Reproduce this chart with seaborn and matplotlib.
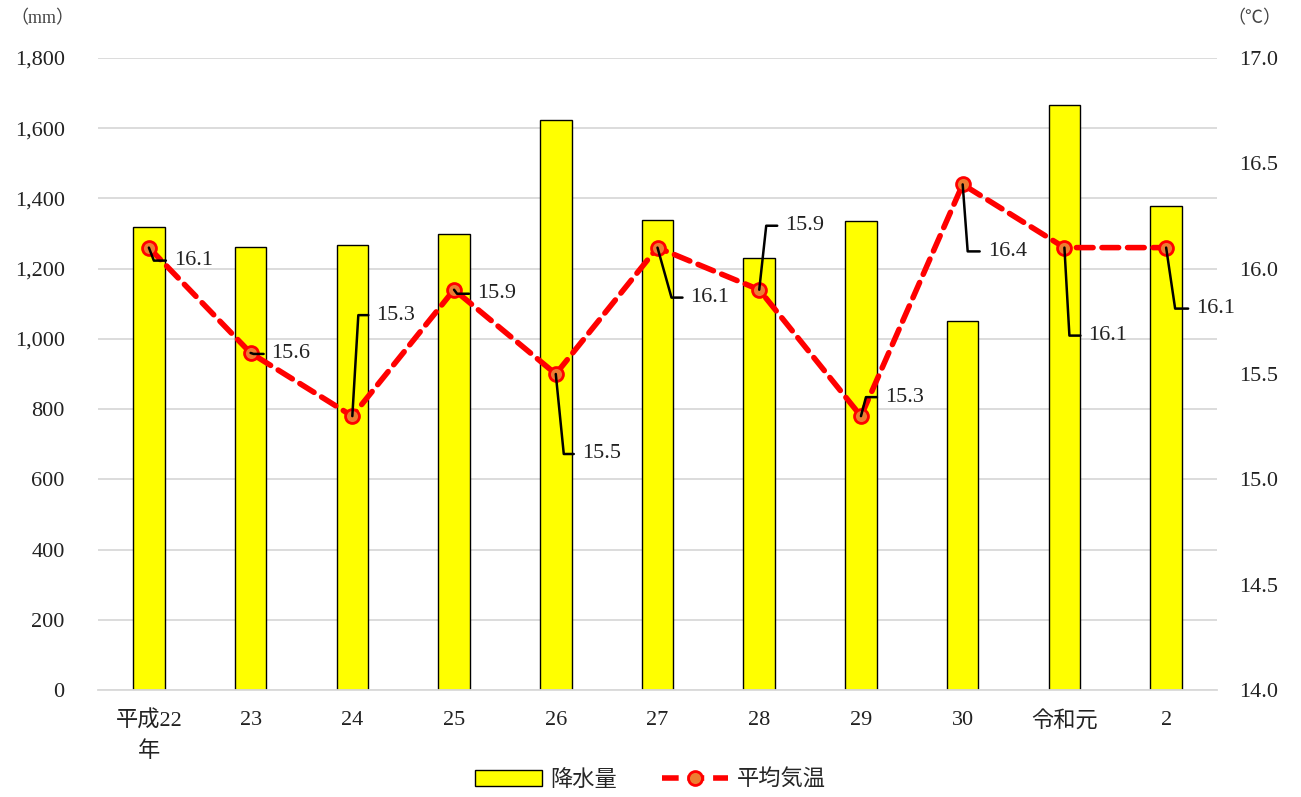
import numpy as np
import pandas as pd
import matplotlib
matplotlib.use("Agg")
import matplotlib.pyplot as plt
from matplotlib.lines import Line2D
from matplotlib.patches import Patch
from matplotlib.transforms import IdentityTransform
import seaborn as sns

# ---- data ----
years = ["平成22\n年", "23", "24", "25", "26", "27", "28", "29", "30", "令和元", "2"]
rainfall = [1320, 1262, 1267, 1299, 1623, 1338, 1230, 1336, 1051, 1666, 1378]
temperature = [16.1, 15.6, 15.3, 15.9, 15.5, 16.1, 15.9, 15.3, 16.4, 16.1, 16.1]
left_ticks = [0, 200, 400, 600, 800, 1000, 1200, 1400, 1600, 1800]
right_ticks = [14.0, 14.5, 15.0, 15.5, 16.0, 16.5, 17.0]

# label leader offsets in pixels: (elbow dx, elbow dy, end dx) ; dy positive = down
leaders = [(5, 13, 17), (3, 1, 13), (6, -101, 16), (3, 4, 15), (8, 80, 18), (14, 50, 25),
           (7, -64, 18), (5, -19, 16), (5, 67, 17), (5, 88, 16), (9, 61, 22)]

sns.set_theme(style="white")
plt.rcParams["font.family"] = ["Liberation Serif", "Noto Sans CJK JP", "DejaVu Sans"]

W, H = 1301, 797
fig = plt.figure(figsize=(W / 100, H / 100), dpi=100)
ax = fig.add_axes([98 / W, 1 - 690 / H, (1217 - 98) / W, (690 - 58) / H])

df = pd.DataFrame({"year": years, "rain": rainfall, "temp": temperature})

sns.barplot(data=df, x="year", y="rain", color="#FFFF00", saturation=1,
            edgecolor="black", linewidth=1, width=0.31, ax=ax, zorder=2)
ax.set_ylim(0, 1800)
ax.set_xlim(-0.5, len(years) - 0.5)
ax.set_yticks(left_ticks)
ax.set_yticklabels([f"{v:,}" for v in left_ticks], fontsize=16, color="#222222")
for lab in ax.get_xticklabels():
    lab.set_linespacing(1.6)
ax.set_xlabel("")
ax.set_ylabel("")
ax.tick_params(axis="y", length=0, pad=24)
ax.tick_params(axis="x", length=0, pad=15, labelsize=16, labelcolor="#222222")
ax.grid(axis="y", color="#D9D9D9", linewidth=1.3, zorder=0)
ax.set_axisbelow(True)
for s in ["top", "right", "left"]:
    ax.spines[s].set_visible(False)
ax.spines["bottom"].set_color("#D9D9D9")
ax.spines["bottom"].set_linewidth(1.3)

ax2 = ax.twinx()
sns.lineplot(x=np.arange(len(years)), y=temperature, ax=ax2, color="#FF0000",
             linewidth=4, marker="o", markersize=10, markerfacecolor="#ED7D31",
             markeredgecolor="#FF0000", markeredgewidth=2, zorder=4)
ln = ax2.lines[0]
ln.set_dashes([3, 1.6])
ln.set_dash_capstyle("round")
ax2.set_ylim(14.0, 17.0)
ax2.set_xlim(-0.5, len(years) - 0.5)
ax2.set_yticks(right_ticks)
ax2.set_yticklabels([f"{v:.1f}" for v in right_ticks], fontsize=16, color="#222222")
ax2.tick_params(axis="y", length=0, pad=16)
ax2.set_ylabel("")
ax2.grid(False)
for s in ["top", "right", "left", "bottom"]:
    ax2.spines[s].set_visible(False)

# data labels with leader lines
fig.canvas.draw()
for i, t in enumerate(temperature):
    px, py = ax2.transData.transform((i, t))
    ex, ey, hx = leaders[i]
    xs = [px, px + ex, px + hx]
    ys = [py, py - ey, py - ey]
    fig.add_artist(Line2D(xs, ys, transform=IdentityTransform(), color="black",
                          linewidth=1.8, zorder=5))
    fig.text((px + hx + 8) / W, (py - ey) / H, f"{t:.1f}", fontsize=16,
             color="#222222", ha="left", va="center", zorder=6)

# units
fig.text(42 / W, 1 - 19 / H, "（mm）", fontsize=13, color="#444444", ha="center", va="center")
fig.text(1254 / W, 1 - 19 / H, "（℃）", fontsize=13, color="#444444", ha="center", va="center")

handles = [Patch(facecolor="#FFFF00", edgecolor="black", linewidth=1),
           Line2D([], [], color="#FF0000", linewidth=4, linestyle=(0, (3, 1.6)), marker="o",
                  markersize=10, markerfacecolor="#ED7D31", markeredgecolor="#FF0000",
                  markeredgewidth=2)]
fig.legend(handles, ["降水量", "平均気温"], loc="center", bbox_to_anchor=(0.5, 1 - 780 / H),
           ncol=2, frameon=False, fontsize=16, handlelength=3.0, columnspacing=2.0,
           handletextpad=0.4)

fig.savefig("out.png", dpi=100)
